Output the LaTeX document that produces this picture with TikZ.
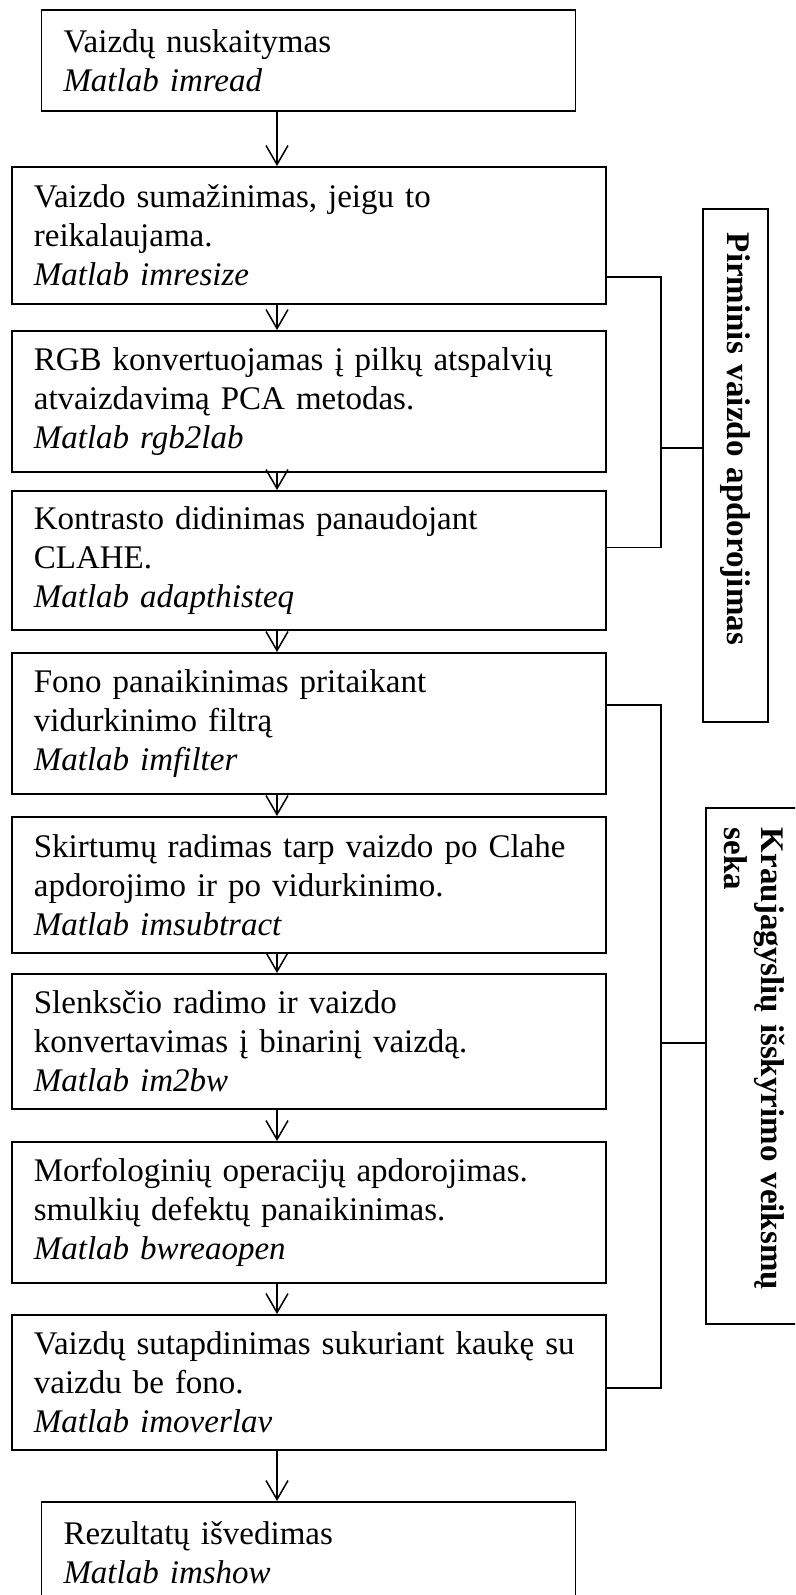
\documentclass[tikz,border=0pt]{standalone}
\usepackage{fontspec}
\setmainfont{Liberation Serif}
\usetikzlibrary{arrows.meta,calc}

\tikzset{
  stepbox/.style={draw,line width=1.8pt,anchor=north west,inner xsep=22pt,inner ysep=0pt,
    align=left,font=\fontsize{33pt}{39pt}\selectfont},
  wide/.style={stepbox,text width=550pt},
  narrow/.style={stepbox,text width=490pt},
  flow/.style={line width=1.5pt,-{Straight Barb[length=19pt,width=22pt]}},
  link/.style={line width=1.5pt},
  groupbox/.style={draw,line width=1.8pt,rotate=-90,anchor=south west,align=left,
    font=\fontsize{33pt}{37pt}\selectfont\bfseries}
}

\begin{document}
\begin{tikzpicture}[x=1pt,y=-1pt]
  \useasboundingbox (0,0) rectangle (795,1595);
  \clip (0,0) rectangle (795,1595);

  % steps
  \node[narrow,minimum height=101pt] (b1) at (40.6,9) {Vaizdų nuskaitymas\\ \textit{Matlab imread}};
  \node[wide,minimum height=137pt] (b2) at (11,166) {Vaizdo sumažinimas, jeigu to\\ reikalaujama.\\ \textit{Matlab imresize}};
  \node[wide,minimum height=141pt] (b3) at (11,330) {RGB konvertuojamas į pilkų atspalvių\\ atvaizdavimą PCA metodas.\\ \textit{Matlab rgb2lab}};
  \node[wide,minimum height=139pt] (b4) at (11,490) {Kontrasto didinimas panaudojant\\ CLAHE.\\ \textit{Matlab adapthisteq}};
  \node[wide,minimum height=141pt] (b5) at (11,652) {Fono panaikinimas pritaikant\\ vidurkinimo filtrą\\ \textit{Matlab imfilter}};
  \node[wide,minimum height=136pt] (b6) at (11,816) {Skirtumų radimas tarp vaizdo po Clahe\\ apdorojimo ir po vidurkinimo.\\ \textit{Matlab imsubtract}};
  \node[wide,minimum height=135pt] (b7) at (11,973) {Slenksčio radimo ir vaizdo\\ konvertavimas į binarinį vaizdą.\\ \textit{Matlab im2bw}};
  \node[wide,minimum height=141pt] (b8) at (11,1141) {Morfologinių operacijų apdorojimas.\\ smulkių defektų panaikinimas.\\ \textit{Matlab bwreaopen}};
  \node[wide,minimum height=135pt] (b9) at (11,1314) {Vaizdų sutapdinimas sukuriant kaukę su\\ vaizdu be fono.\\ \textit{Matlab imoverlav}};
  \node[narrow,minimum height=101pt] (b10) at (40.6,1501) {Rezultatų išvedimas\\ \textit{Matlab imshow}};

  \coordinate (ax) at (277,0);
  \foreach \a/\b in {b1/b2,b2/b3,b3/b4,b4/b5,b5/b6,b6/b7,b7/b8,b8/b9,b9/b10}
    \draw[flow] (\a.south -| ax) -- (\b.north -| ax);

  % groups
  \node[groupbox,minimum width=513pt,minimum height=65pt,text width=465pt,inner xsep=24pt]
    (g1) at (702,208) {Pirminis vaizdo apdorojimas};
  \node[groupbox,minimum width=516pt,text width=476pt,text height=36pt,inner xsep=20pt,inner ysep=18pt]
    (g2) at (705,807) {Kraujagyslių išskyrimo veiksmų\\ seka};

  \coordinate (j1) at (661,448);
  \coordinate (j2) at (661,1043);
  \draw[link] ($(b2.north east)!.8!(b2.south east)$) -| (j1) |- ($(b4.north east)!.41!(b4.south east)$);
  \draw[link] (j1) -- (j1 -| g1.south);
  \draw[link] ($(b5.north east)!.37!(b5.south east)$) -| (j2) |- ($(b9.north east)!.54!(b9.south east)$);
  \draw[link] (j2) -- (j2 -| g2.south);
\end{tikzpicture}
\end{document}
